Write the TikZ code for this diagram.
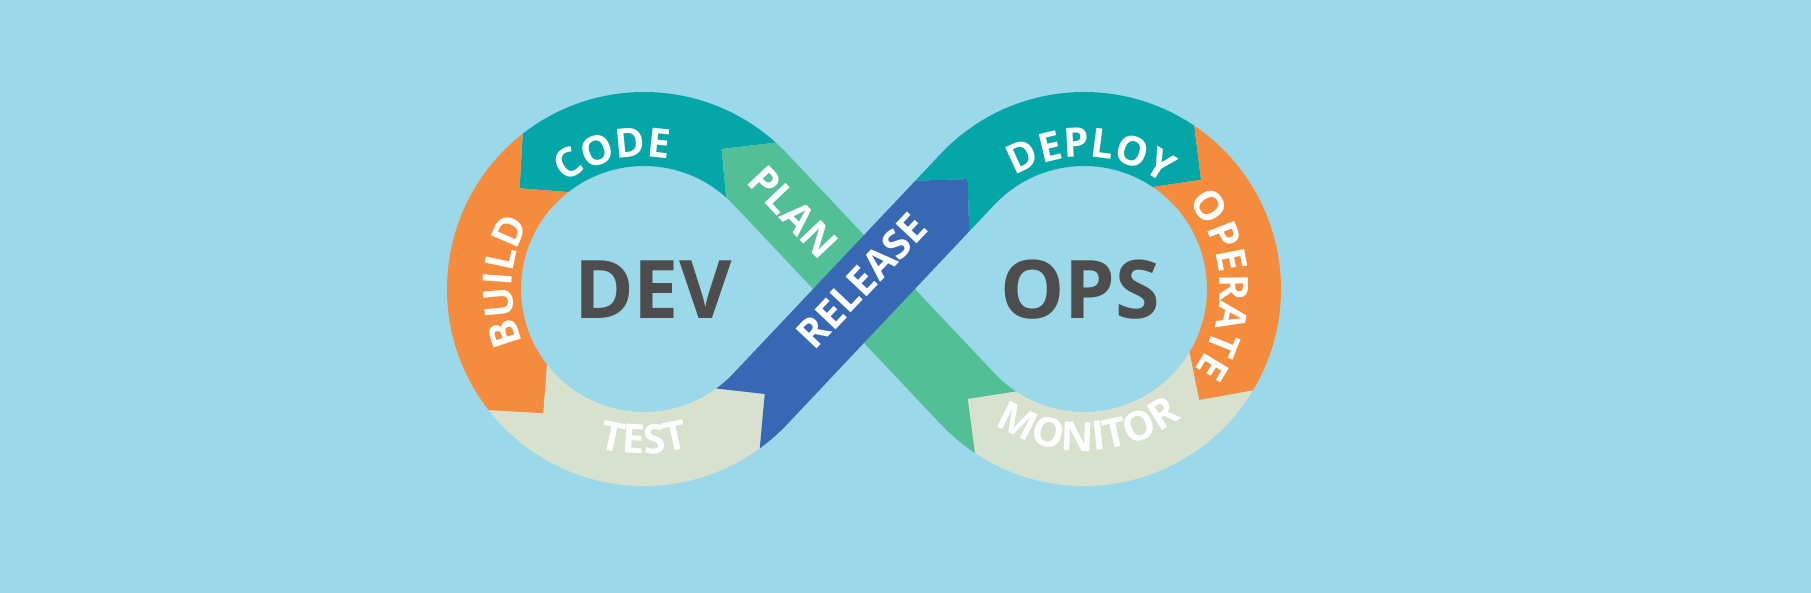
\documentclass[tikz,border=0pt]{standalone}
\usepackage{fontspec}
\setmainfont{Open Sans}
\usetikzlibrary{calc, decorations.text}

\definecolor{skyback}{HTML}{9BD9EA}
\definecolor{tealband}{HTML}{05A6A7}
\definecolor{orangeband}{HTML}{F58B3C}
\definecolor{greyband}{HTML}{D8E0CE}
\definecolor{greenband}{HTML}{53BF97}
\definecolor{blueband}{HTML}{3868B3}
\definecolor{wordgrey}{HTML}{4D4D4D}

\newcommand{\bandfont}{\fontsize{11.5}{13}\selectfont\bfseries}

\begin{document}
\begin{tikzpicture}[
    bandtext/.style={decorate, decoration={text along path, text align=center,
        text color=white, text={|\bandfont|#1}}},
    loopword/.style={font=\fontsize{23}{26}\selectfont\bfseries, text=wordgrey, inner sep=0pt},
    diagtext/.style={font=\bandfont, text=white, inner sep=0pt}
]

% ============================================================
% GEOMETRY
% loop centres L=(-2.2,0), R=(2.2,0); band radii 1.23 / 1.6 / 1.97
% diagonals through (0,0), tangent to the centre circles
% ============================================================
\pgfmathsetmacro{\al}{asin(1.6/2.2)}
\pgfmathsetmacro{\gt}{90-\al}      % green on L
\pgfmathsetmacro{\lt}{\al-90}      % blue on L
\pgfmathsetmacro{\rt}{90+\al}      % blue on R
\pgfmathsetmacro{\mt}{-90-\al}     % green on R
\pgfmathsetmacro{\mb}{\mt+13}      % monitor head back

\fill[skyback] (-8.64,-3.04) rectangle (9.47,2.89);

\coordinate (L) at (-2.2,0);
\coordinate (R) at (2.2,0);
\coordinate (relT) at ($(R)+(\rt:1.6)$);
\coordinate (relB1) at ($(relT)+(\al+225:0.523)$);
\coordinate (relB2) at ($(relT)+(\al+135:0.523)$);

% ============================================================
% LEFT LOOP: CODE, BUILD, TEST
% ============================================================
\fill[tealband] ($(L)+(48:1.97)$) arc[start angle=48, end angle=128, radius=1.97]
    -- ($(L)+(141:1.6)$) -- ($(L)+(128:1.23)$) arc[start angle=128, end angle=48, radius=1.23]
    -- ($(L)+(61:1.6)$) -- cycle;

\fill[orangeband] ($(L)+(128:1.97)$) arc[start angle=128, end angle=218, radius=1.97]
    -- ($(L)+(231:1.6)$) -- ($(L)+(218:1.23)$) arc[start angle=218, end angle=128, radius=1.23]
    -- ($(L)+(141:1.6)$) -- cycle;

\fill[greyband] ($(L)+(218:1.97)$) arc[start angle=218, end angle=306, radius=1.97]
    -- ($(L)+(319:1.6)$) -- ($(L)+(306:1.23)$) arc[start angle=306, end angle=218, radius=1.23]
    -- ($(L)+(231:1.6)$) -- cycle;

% ============================================================
% RIGHT LOOP: DEPLOY, OPERATE, MONITOR
% ============================================================
\fill[tealband] (relB2) -- ($(R)+(\rt:1.97)$) arc[start angle=\rt, end angle=56, radius=1.97]
    -- ($(R)+(43:1.6)$) -- ($(R)+(56:1.23)$) arc[start angle=56, end angle=\rt, radius=1.23]
    -- (relB1) -- (relT) -- cycle;

\fill[orangeband] ($(R)+(56:1.97)$) arc[start angle=56, end angle=-31, radius=1.97]
    -- ($(R)+(-44:1.6)$) -- ($(R)+(-31:1.23)$) arc[start angle=-31, end angle=56, radius=1.23]
    -- ($(R)+(43:1.6)$) -- cycle;

\fill[greyband] ($(R)+(-31:1.97)$) arc[start angle=-31, end angle=\mb, radius=1.97]
    -- ($(R)+(\mt:1.6)$) -- ($(R)+(\mb:1.23)$) arc[start angle=\mb, end angle=-31, radius=1.23]
    -- ($(R)+(-44:1.6)$) -- cycle;

% ============================================================
% CROSSING: PLAN under RELEASE
% ============================================================
\fill[greenband] ($(R)+(\mb:1.97)$) arc[start angle=\mb, end angle=\mt, radius=1.97]
    -- ($(L)+(\gt:1.23)$) arc[start angle=\gt, end angle=48, radius=1.23]
    -- ($(L)+(61:1.6)$) -- ($(L)+(48:1.97)$) arc[start angle=48, end angle=\gt, radius=1.97]
    -- ($(R)+(\mt:1.23)$) arc[start angle=\mt, end angle=\mb, radius=1.23]
    -- ($(R)+(\mt:1.6)$) -- cycle;

\fill[blueband] ($(L)+(-54:1.97)$) arc[start angle=-54, end angle=\lt, radius=1.97]
    -- (relB1) -- (relT) -- (relB2)
    -- ($(L)+(\lt:1.23)$) arc[start angle=\lt, end angle=-54, radius=1.23]
    -- ($(L)+(-41:1.6)$) -- cycle;

% ============================================================
% BAND LABELS
% ============================================================
\path[bandtext=CODE] ($(L)+(143:1.32)$) arc[start angle=143, end angle=63, radius=1.32];
\path[bandtext=BUILD] ($(L)+(218:1.32)$) arc[start angle=218, end angle=136, radius=1.32];
\path[bandtext=TEST] ($(L)+(228:1.65)$) arc[start angle=228, end angle=312, radius=1.65];
\path[bandtext=DEPLOY] ($(R)+(133:1.32)$) arc[start angle=133, end angle=41, radius=1.32];
\path[bandtext=OPERATE] ($(R)+(48:1.36)$) arc[start angle=48, end angle=-44, radius=1.36];
\path[bandtext=MONITOR] ($(R)+(226:1.62)$) arc[start angle=226, end angle=318, radius=1.62];

\node[diagtext, rotate=-\al] (plan) at (-0.71,0.77) {PLAN};
\node[diagtext, rotate=\al] (release) at (-0.02,0.08) {RELEASE};

% ============================================================
% LOOP WORDS
% ============================================================
\node[loopword] (dev) at (-2.11,-0.01) {DEV};
\node[loopword] (ops) at (2.16,-0.01) {OPS};

\end{tikzpicture}
\end{document}
